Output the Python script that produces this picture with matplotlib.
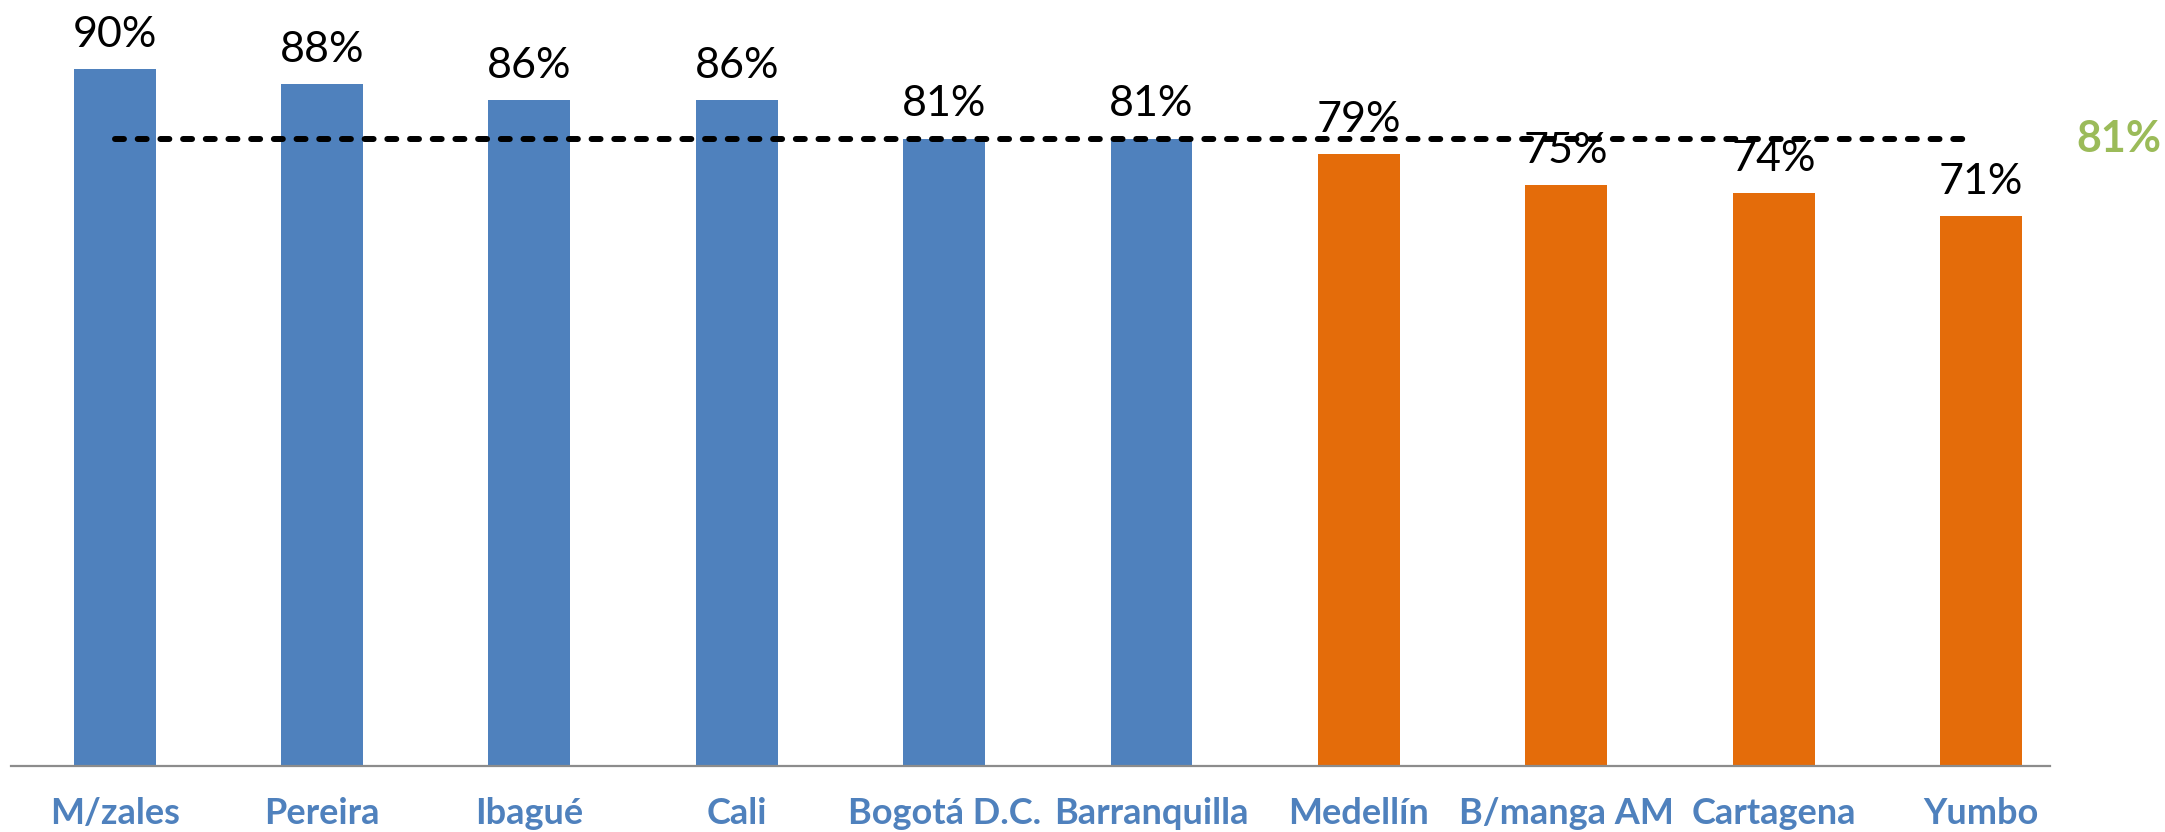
import matplotlib
matplotlib.use("Agg")
import matplotlib.pyplot as plt
import numpy as np

# ---------------------------------------------------------------------------
# Data
# ---------------------------------------------------------------------------
cities = ["M/zales", "Pereira", "Ibagué", "Cali", "Bogotá D.C.", "Barranquilla",
          "Medellín", "B/manga AM", "Cartagena", "Yumbo"]
values = [0.90, 0.88, 0.86, 0.86, 0.81, 0.81, 0.79, 0.75, 0.74, 0.71]
average = 0.81

BLUE = "#4F81BD"
ORANGE = "#E46C0A"
GREEN = "#9BBB59"

colours = [BLUE if v >= average else ORANGE for v in values]

fig = plt.figure(figsize=(21.65, 8.32), dpi=100)
# axes box in pixel terms: left 11, right 2050, bottom 766 (from top), top 0
ax = fig.add_axes([11 / 2165, 1 - 766 / 832, (2050 - 11) / 2165, 766 / 832])

x = np.arange(len(cities))
ax.bar(x, values, width=0.395, color=colours, zorder=2)

for xi, v in zip(x, values):
    ax.annotate(f"{v*100:.0f}%", (xi, v), xytext=(0, 11), textcoords="offset points",
                ha="center", va="bottom", fontsize=31, family="Lato", color="black")

# average line across bar centres
ax.plot([x[0], x[-1] - 0.04], [average, average], color="black", lw=4.3,
        dashes=(1.5, 2.3), dash_capstyle="round", zorder=3)
ax.text(1.013, average, f"{average*100:.0f}%", transform=ax.get_yaxis_transform(),
        ha="left", va="center", fontsize=31, fontweight="bold", family="Lato",
        color=GREEN, clip_on=False)

ax.set_xlim(-0.5, len(cities) - 0.667)
ax.set_ylim(0, 0.989)
ax.set_xticks(x)
ax.set_xticklabels(cities, fontsize=26, fontweight="bold", family="Lato", color=BLUE)
ax.tick_params(axis="x", length=0, pad=22)
ax.set_yticks([])
for side in ["left", "right", "top"]:
    ax.spines[side].set_visible(False)
ax.spines["bottom"].set_color("#8C8C8C")
ax.spines["bottom"].set_linewidth(1.6)

fig.savefig("out.png", dpi=100)
